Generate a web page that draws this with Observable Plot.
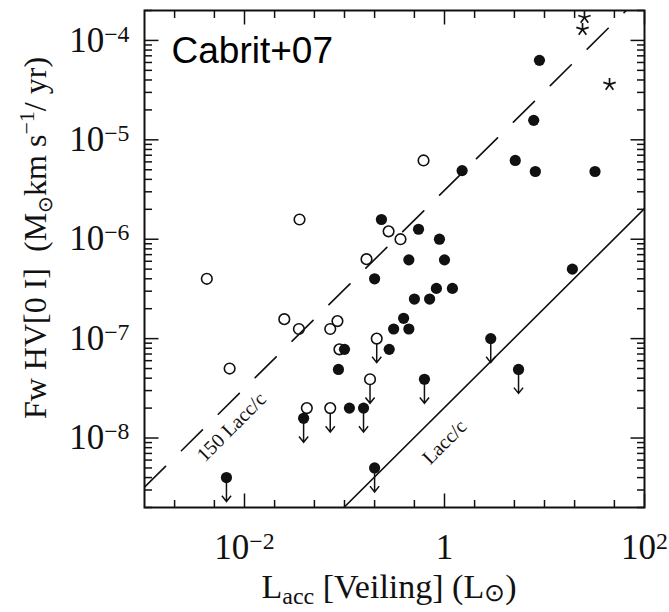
<!DOCTYPE html>
<html>
<head>
<meta charset="utf-8">
<script src="https://cdn.jsdelivr.net/npm/d3@7"></script>
<script src="https://cdn.jsdelivr.net/npm/@observablehq/plot@0.6"></script>
<style>
  html, body { margin: 0; padding: 0; background: #fff; }
  svg { display: block; }
</style>
</head>
<body>
<div id="chart"></div>
<script>
// ---------------- data ----------------
// open circles (detections)
const openX = [0.0042, 0.0071, 0.0355, 0.025, 0.035, 0.072, 0.085, 0.042, 0.166, 0.276, 0.363, 0.617, 0.089];
const openY = [4.0e-7, 5.0e-8, 1.58e-6, 1.57e-7, 1.25e-7, 1.25e-7, 1.5e-7, 2.0e-8, 6.3e-7, 1.2e-6, 1.0e-6, 6.2e-6, 7.8e-8];
// open circles, upper limits
const openLimX = [0.072, 0.21, 0.18];
const openLimY = [2.0e-8, 1.0e-7, 3.9e-8];
// filled circles (detections)
const filledX = [0.234, 0.55, 0.89, 0.44, 1.0, 0.2, 0.5, 0.71, 0.83, 1.2, 0.39, 0.44, 0.31, 0.28, 0.1, 0.087, 0.112, 1.5, 8.9, 7.8, 5.1, 8.1, 32, 19];
const filledY = [1.58e-6, 1.26e-6, 1.0e-6, 6.2e-7, 6.2e-7, 4.0e-7, 2.5e-7, 2.5e-7, 3.2e-7, 3.2e-7, 1.6e-7, 1.25e-7, 1.25e-7, 7.8e-8, 7.8e-8, 4.9e-8, 2.0e-8, 4.9e-6, 6.3e-5, 1.57e-5, 6.2e-6, 4.8e-6, 4.8e-6, 5.0e-7];
// filled circles, upper limits
const filledLimX = [0.039, 0.155, 0.0066, 0.2, 0.63, 2.9, 5.5];
const filledLimY = [1.58e-8, 2.0e-8, 4.0e-9, 5.0e-9, 3.9e-8, 1.0e-7, 4.9e-8];
// stars
const starX = [25.1, 24.0, 44.7];
const starY = [1.70e-4, 1.29e-4, 3.61e-5];
// reference lines (end points)
const dashedX = [1e-3, 65.6];
const dashedY = [3.2e-9, 2.0e-4];
const solidX = [0.0985, 100];
const solidY = [2.0e-9, 2.03e-6];
// line labels
const lineLabels = ["150 Lacc/c", "Lacc/c"];
const lineLabelX = [0.0074, 1.0];
const lineLabelY = [1.29e-8, 9.1e-9];
// axes
const xDomain = [1e-3, 1e2];
const yDomain = [2e-9, 2e-4];
const xLabelTicks = [1e-2, 1, 1e2];
const xMinorTicks = [0.002, 0.005, 0.02, 0.05, 0.1, 0.2, 0.5, 2, 5, 10, 20, 50];
const yLabelTicks = [1e-8, 1e-7, 1e-6, 1e-5, 1e-4];
const yMinorTicks = [];
for (let e = -9; e <= -4; e++) for (let m = 2; m <= 9; m++) {
  const v = +(m + "e" + e);
  if (v >= yDomain[0] && v <= yDomain[1]) yMinorTicks.push(v);
}
const annotation = "Cabrit+07";

// ---------------- helpers ----------------
const ink = "#111";
const serif = "'Liberation Serif', 'Times New Roman', serif";
const zip = (xs, ys) => xs.map((x, i) => ({x, y: ys[i]}));
const seg = (dx, dy) => ({draw(ctx) { ctx.moveTo(0, 0); ctx.lineTo(dx, dy); }});
const arrowDown = (start) => ({draw(ctx) {
  ctx.moveTo(0, start); ctx.lineTo(0, 24);
  ctx.moveTo(-4.6, 18.2); ctx.lineTo(0, 24); ctx.lineTo(4.6, 18.2);
}});
const asterisk = {draw(ctx) {
  const r = 6.5;
  for (let k = 0; k < 5; k++) {
    const a = (2 * Math.PI * k) / 5;
    ctx.moveTo(0, 0); ctx.lineTo(r * Math.sin(a), -r * Math.cos(a));
  }
}};
const fmtPow = d => { const e = Math.round(Math.log10(d)); return e === 0 ? "1" : "10^" + e; };

const MAJ = 14, MIN = 7.5;
const tickStyle = {fill: "none", stroke: ink, strokeWidth: 1.5};

const svg = Plot.plot({
  width: 669,
  height: 612,
  marginLeft: 144,
  marginRight: 25,
  marginTop: 10,
  marginBottom: 105,
  style: {fontFamily: serif, fontSize: "35px", color: ink, background: "#fff"},
  x: {type: "log", domain: xDomain, ticks: xLabelTicks, tickFormat: fmtPow, tickSize: 0, tickPadding: 27, label: null},
  y: {type: "log", domain: yDomain, ticks: yLabelTicks, tickFormat: fmtPow, tickSize: 0, tickPadding: 15, label: null},
  marks: [
    // ticks (inward) on all four sides
    Plot.dot(xLabelTicks, {x: d => d, frameAnchor: "bottom", symbol: seg(0, -MAJ), ...tickStyle}),
    Plot.dot(xMinorTicks, {x: d => d, frameAnchor: "bottom", symbol: seg(0, -MIN), ...tickStyle}),
    Plot.dot(xLabelTicks, {x: d => d, frameAnchor: "top", symbol: seg(0, MAJ), ...tickStyle}),
    Plot.dot(xMinorTicks, {x: d => d, frameAnchor: "top", symbol: seg(0, MIN), ...tickStyle}),
    Plot.dot(yLabelTicks, {y: d => d, frameAnchor: "left", symbol: seg(MAJ, 0), ...tickStyle}),
    Plot.dot(yMinorTicks, {y: d => d, frameAnchor: "left", symbol: seg(MIN, 0), ...tickStyle}),
    Plot.dot(yLabelTicks, {y: d => d, frameAnchor: "right", symbol: seg(-MAJ, 0), ...tickStyle}),
    Plot.dot(yMinorTicks, {y: d => d, frameAnchor: "right", symbol: seg(-MIN, 0), ...tickStyle}),
    // reference lines
    Plot.line(zip(dashedX, dashedY), {x: "x", y: "y", stroke: ink, strokeWidth: 1.6, strokeDasharray: "29.6,22.3", clip: true}),
    Plot.line(zip(solidX, solidY), {x: "x", y: "y", stroke: ink, strokeWidth: 1.6, clip: true}),
    Plot.text(lineLabels, {x: (d, i) => lineLabelX[i], y: (d, i) => lineLabelY[i], text: d => d, rotate: -45,
      fontSize: 20, fontFamily: serif, fill: ink, textAnchor: "middle", lineAnchor: "middle"}),
    // upper-limit arrows
    Plot.dot(zip(openLimX, openLimY), {x: "x", y: "y", symbol: arrowDown(5.5), fill: "none", stroke: ink, strokeWidth: 1.5}),
    Plot.dot(zip(filledLimX, filledLimY), {x: "x", y: "y", symbol: arrowDown(0), fill: "none", stroke: ink, strokeWidth: 1.5}),
    // open circles
    Plot.dot(zip(openX, openY).concat(zip(openLimX, openLimY)), {x: "x", y: "y", r: 5.3, fill: "none", stroke: ink, strokeWidth: 1.6}),
    // filled circles
    Plot.dot(zip(filledX, filledY).concat(zip(filledLimX, filledLimY)), {x: "x", y: "y", r: 5.6, fill: ink, stroke: "none"}),
    // stars
    Plot.dot(zip(starX, starY), {x: "x", y: "y", symbol: asterisk, fill: "none", stroke: ink, strokeWidth: 1.7}),
    // annotation
    Plot.text([annotation], {frameAnchor: "top-left", dx: 27, dy: 52, text: d => d, textAnchor: "start", lineAnchor: "bottom",
      fontSize: 37, fontFamily: "'Liberation Sans', Arial, sans-serif", fill: "#000"}),
    Plot.frame({stroke: ink, strokeWidth: 2})
  ]
});

// superscript exponents in tick labels
const s = d3.select(svg);
s.selectAll('g[aria-label="x-axis tick label"] text, g[aria-label="y-axis tick label"] text').each(function () {
  const t = d3.select(this);
  const m = /^10\^(-?\d+)$/.exec(t.text());
  if (m) {
    t.text("10");
    t.append("tspan").attr("dy", "-0.42em").attr("font-size", "0.68em").text(m[1].replace("-", "\u2212"));
  }
});

// axis titles
const xt = s.append("text").attr("x", 389).attr("y", 598).attr("text-anchor", "middle")
  .attr("font-family", serif).attr("font-size", 34).attr("fill", ink);
xt.append("tspan").text("L");
xt.append("tspan").attr("font-size", 24).attr("dy", 6).text("acc");
xt.append("tspan").attr("dy", -6).text("\u00a0[Veiling]\u00a0(L");
xt.append("tspan").attr("font-size", 25).attr("dy", 3).text("\u2299");
xt.append("tspan").attr("dy", -3).text(")");

const yt = s.append("text").attr("transform", "translate(46,238) rotate(-90)").attr("text-anchor", "middle")
  .attr("font-family", serif).attr("font-size", 32).attr("fill", ink);
yt.append("tspan").text("Fw HV[0 I]\u00a0\u00a0(M");
yt.append("tspan").attr("font-size", 20).attr("dy", 6).text("\u2299");
yt.append("tspan").attr("dy", -6).text("km s");
yt.append("tspan").attr("font-size", 22).attr("dy", -12).text("\u22121");
yt.append("tspan").attr("dy", 12).text("/ yr)");

document.getElementById("chart").appendChild(svg);
</script>
</body>
</html>
